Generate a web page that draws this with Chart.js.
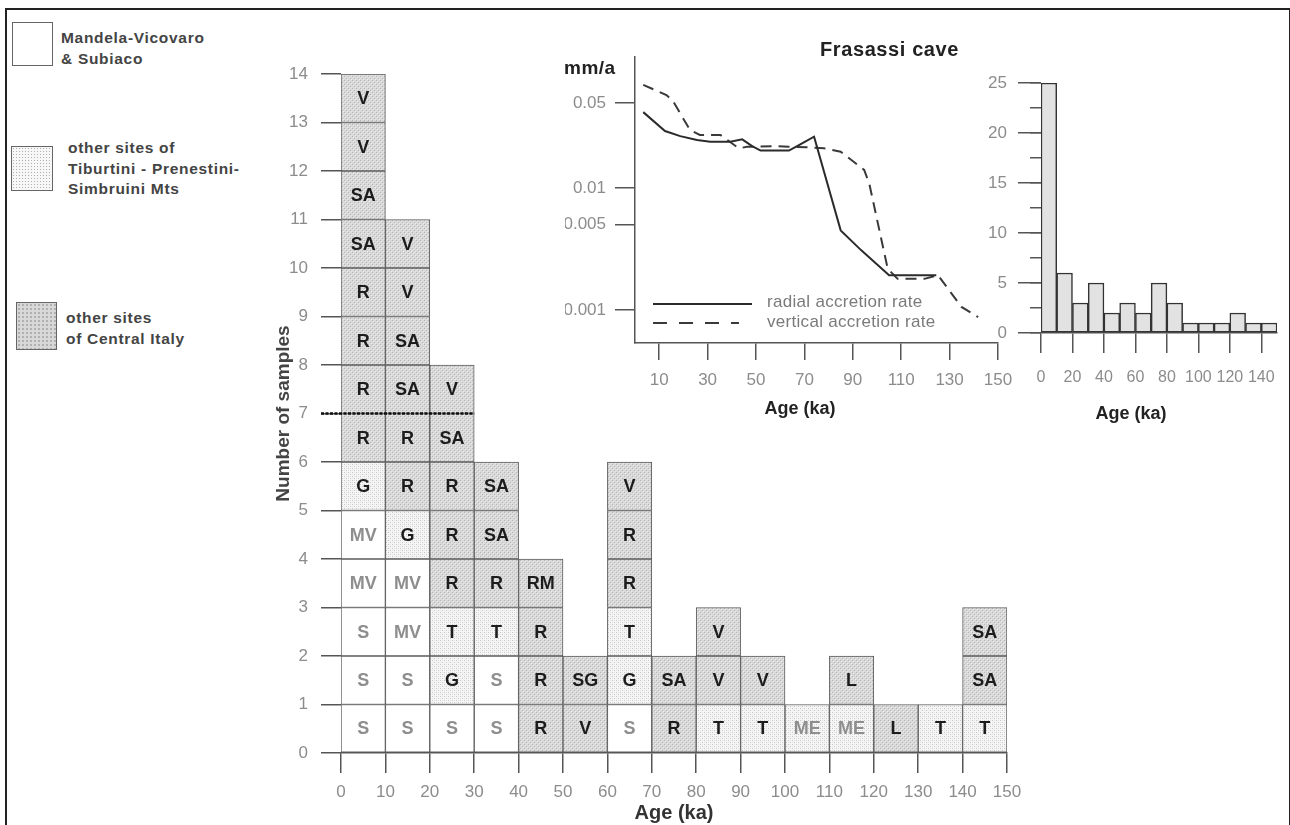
<!DOCTYPE html>
<html>
<head>
<meta charset="utf-8">
<title>U-series ages of speleothems — number of samples by age</title>
<script src="https://cdn.jsdelivr.net/npm/chart.js@4.4.1/dist/chart.umd.min.js"></script>
<style>
  html, body { margin: 0; padding: 0; background: #fff; }
  body { width: 1290px; height: 825px; position: relative; overflow: hidden;
         font-family: 'Liberation Sans', Arial, sans-serif; }
  canvas { position: absolute; left: 0; top: 0; }
  .frame { position: absolute; left: 5px; top: 8px; width: 1282px; height: 840px;
           border: 2px solid #222; border-bottom: none; }
  .key { position: absolute; box-sizing: border-box; border: 1.5px solid #666; }
  .key.white { background: #fff; }
  .key.light { background-color: #f7f7f7;
               background-image: radial-gradient(#b0b0b0 0.7px, transparent 1px);
               background-size: 3px 3px; }
  .key.dark { background-color: #d8d8d8;
              background-image: radial-gradient(#b0b0b0 0.9px, transparent 1.2px);
              background-size: 4px 4px; }
  .txt { position: absolute; white-space: nowrap; }
  .keytxt { font-weight: bold; font-size: 15.5px; line-height: 20.5px; color: #444; letter-spacing: 0.7px; }
  .bold { font-weight: bold; color: #222; }
  .rate { font-size: 17px; color: #7a7a7a; line-height: 20px; letter-spacing: 0.3px; }
  .swatch { position: absolute; height: 2px; }
</style>
</head>
<body>
<div class="frame"></div>

<!-- key for the stacked cells -->
<div class="key white" style="left:12px;top:22px;width:41px;height:44px"></div>
<div class="txt keytxt" style="left:61px;top:28px">Mandela-Vicovaro<br>&amp; Subiaco</div>
<div class="key light" style="left:11px;top:146px;width:42px;height:45px"></div>
<div class="txt keytxt" style="left:68px;top:138px">other sites of<br>Tiburtini - Prenestini-<br>Simbruini Mts</div>
<div class="key dark" style="left:16px;top:302px;width:41px;height:48px"></div>
<div class="txt keytxt" style="left:66px;top:308px">other sites<br>of Central Italy</div>

<canvas id="mainChart" width="1290" height="825"></canvas>
<canvas id="rateChart" width="1290" height="825"></canvas>
<canvas id="histChart" width="1290" height="825"></canvas>

<!-- Frasassi inset texts -->
<div class="txt bold" style="left:820px;top:38px;font-size:20px;letter-spacing:0.6px">Frasassi cave</div>
<div class="txt bold" style="left:564px;top:57px;font-size:19px;letter-spacing:0.5px">mm/a</div>
<div class="swatch" style="left:653px;top:303px;width:99px;background:#2b2b2b"></div>
<div class="swatch" style="left:653px;top:322px;width:86px;background:repeating-linear-gradient(90deg,#3a3a3a 0 14px,transparent 14px 26px)"></div>
<div class="txt rate" style="left:767px;top:292px">radial accretion rate</div>
<div class="txt rate" style="left:767px;top:312px">vertical accretion rate</div>
<div class="txt bold" style="left:740px;width:120px;text-align:center;top:398px;font-size:18px;line-height:20px">Age (ka)</div>
<div class="txt bold" style="left:1071px;width:120px;text-align:center;top:403px;font-size:18px;line-height:20px">Age (ka)</div>

<script>
const FONT = "'Liberation Sans', Arial, sans-serif";
const AXIS = '#555';
const TICK = '#8c8c8c';

// main plot: 10 ka bins, one cell per dated sample (bottom to top)
const ageBins = [5, 15, 25, 35, 45, 55, 65, 75, 85, 95, 105, 115, 125, 135, 145];
const samplesByBin = [
  ['S', 'S', 'S', 'MV', 'MV', 'G', 'R', 'R', 'R', 'R', 'SA', 'SA', 'V', 'V'],
  ['S', 'S', 'MV', 'MV', 'G', 'R', 'R', 'SA', 'SA', 'V', 'V'],
  ['S', 'G', 'T', 'R', 'R', 'R', 'SA', 'V'],
  ['S', 'S', 'T', 'R', 'SA', 'SA'],
  ['R', 'R', 'R', 'RM'],
  ['V', 'SG'],
  ['S', 'G', 'T', 'R', 'R', 'V'],
  ['R', 'SA'],
  ['T', 'V', 'V'],
  ['T', 'V'],
  ['ME'],
  ['ME', 'L'],
  ['L'],
  ['T'],
  ['T', 'SA', 'SA']
];
const mandelaSites = ['S', 'MV'];
const tiburtiniSites = ['T', 'G', 'ME'];
const greyLabelSites = ['S', 'MV', 'ME'];
const boundaryLevel = 7;
const boundaryUntilAge = 30;

// Frasassi cave accretion rates (mm/a)
const radialAges = [3.4, 12.4, 18.7, 25.6, 31.1, 39.4, 44.3, 48.4, 51.9, 63.6, 67, 74, 85, 93.4, 105, 124.5];
const radialRate = [0.042, 0.0294, 0.0267, 0.0248, 0.024, 0.024, 0.0251, 0.0221, 0.0203, 0.0203, 0.0221, 0.0264, 0.0045, 0.0031, 0.00193, 0.00193];
const verticalAges = [3.4, 13, 15.8, 22.7, 26.8, 35.3, 42.9, 46.3, 57.4, 63.6, 71.2, 78.1, 85, 94.7, 96.8, 104.4, 108.5, 119.6, 125.2, 134.9, 141.8];
const verticalRate = [0.0703, 0.058, 0.0513, 0.030, 0.0273, 0.0273, 0.0212, 0.0218, 0.0221, 0.0218, 0.0216, 0.0212, 0.0199, 0.0141, 0.0109, 0.00219, 0.0018, 0.0018, 0.00193, 0.00106, 0.000875];
const rateTicks = [0.001, 0.005, 0.01, 0.05];
const rateAgeTicks = [10, 30, 50, 70, 90, 110, 130, 150];

// Frasassi histogram
const histBins = [5, 15, 25, 35, 45, 55, 65, 75, 85, 95, 105, 115, 125, 135, 145];
const histCounts = [25, 6, 3, 5, 2, 3, 2, 5, 3, 1, 1, 1, 2, 1, 1];
const histAgeTicks = [0, 20, 40, 60, 80, 100, 120, 140];

Chart.defaults.font.family = FONT;
Chart.defaults.animation = false;

function makePattern(base, dots) {
  const c = document.createElement('canvas');
  c.width = 4; c.height = 4;
  const g = c.getContext('2d');
  g.fillStyle = base;
  g.fillRect(0, 0, 4, 4);
  dots.forEach(function (d) { g.fillStyle = d[2]; g.fillRect(d[0], d[1], 1, 1); });
  return g.createPattern(c, 'repeat');
}
const lightFill = makePattern('#f6f6f6', [[0, 0, '#c6c6c6'], [2, 2, '#c6c6c6'], [2, 0, '#e4e4e4'], [0, 2, '#e4e4e4']]);
const darkFill = makePattern('#d9d9d9', [[0, 0, '#b6b6b6'], [2, 2, '#b6b6b6'], [1, 1, '#ececec'], [3, 3, '#ececec']]);

function fillFor(code) {
  if (!code) return '#fff';
  if (mandelaSites.includes(code)) return '#ffffff';
  if (tiburtiniSites.includes(code)) return lightFill;
  return darkFill;
}

// one dataset per stacking level
const maxCount = Math.max.apply(null, samplesByBin.map(function (b) { return b.length; }));
const levelDatasets = [];
for (let k = 0; k < maxCount; k++) {
  const pts = [];
  samplesByBin.forEach(function (codes, i) {
    if (codes.length > k) pts.push({ x: ageBins[i], y: 1, code: codes[k] });
  });
  levelDatasets.push({
    data: pts,
    backgroundColor: function (ctx) { return fillFor(ctx.raw && ctx.raw.code); },
    borderColor: '#5c5c5c',
    borderWidth: 1,
    borderSkipped: false,
    barPercentage: 1,
    categoryPercentage: 1
  });
}

const cellLabels = {
  id: 'cellLabels',
  afterDatasetsDraw(chart) {
    const ctx = chart.ctx;
    ctx.save();
    ctx.font = 'bold 18px ' + FONT;
    ctx.textAlign = 'center';
    ctx.textBaseline = 'middle';
    chart.data.datasets.forEach(function (ds, di) {
      chart.getDatasetMeta(di).data.forEach(function (bar, j) {
        const code = ds.data[j].code;
        ctx.fillStyle = greyLabelSites.includes(code) ? '#8e8e8e' : '#1c1c1c';
        ctx.fillText(code, bar.x, (bar.y + bar.base) / 2 + 1);
      });
    });
    // heavy dotted boundary at 7 samples
    const x = chart.scales.x, y = chart.scales.y;
    const yy = y.getPixelForValue(boundaryLevel);
    ctx.strokeStyle = '#111';
    ctx.lineWidth = 2.5;
    ctx.setLineDash([3, 1.5]);
    ctx.beginPath();
    ctx.moveTo(chart.chartArea.left - 20, yy);
    ctx.lineTo(x.getPixelForValue(boundaryUntilAge), yy);
    ctx.stroke();
    ctx.restore();
  }
};

function tickGrid(len) {
  return { drawOnChartArea: false, drawTicks: true, tickLength: len, color: AXIS, lineWidth: 1.5, offset: false };
}

new Chart(document.getElementById('mainChart'), {
  type: 'bar',
  data: { datasets: levelDatasets },
  options: {
    responsive: false,
    devicePixelRatio: 1,
    layout: { padding: { left: 271, right: 283, top: 74, bottom: 0 } },
    plugins: { legend: { display: false }, tooltip: { enabled: false } },
    scales: {
      x: {
        type: 'linear', stacked: true, min: 0, max: 150, offset: false,
        afterFit: function (s) { s.height = 72; },
        ticks: { stepSize: 10, color: TICK, font: { size: 17 }, padding: 9, autoSkip: false, maxRotation: 0 },
        grid: tickGrid(20),
        border: { display: true, color: AXIS, width: 1.5 },
        title: { display: true, text: 'Age (ka)', color: '#333', font: { size: 20, weight: 'bold' }, padding: { top: 0, bottom: 0 } }
      },
      y: {
        stacked: true, min: 0, max: 14,
        afterFit: function (s) { s.width = 70; },
        ticks: { stepSize: 1, color: TICK, font: { size: 17 }, padding: 13 },
        grid: tickGrid(20),
        border: { display: false },
        title: { display: true, text: 'Number of samples', color: '#444', font: { size: 19, weight: 'bold' }, padding: { top: 1, bottom: 0 } }
      }
    }
  },
  plugins: [cellLabels]
});

new Chart(document.getElementById('rateChart'), {
  type: 'line',
  data: {
    datasets: [
      {
        label: 'radial accretion rate',
        data: radialAges.map(function (a, i) { return { x: a, y: radialRate[i] }; }),
        borderColor: '#2b2b2b', borderWidth: 2, pointRadius: 0, tension: 0, fill: false
      },
      {
        label: 'vertical accretion rate',
        data: verticalAges.map(function (a, i) { return { x: a, y: verticalRate[i] }; }),
        borderColor: '#3a3a3a', borderWidth: 2, borderDash: [11, 7], pointRadius: 0, tension: 0, fill: false
      }
    ]
  },
  options: {
    responsive: false,
    devicePixelRatio: 1,
    layout: { padding: { left: 565, right: 292, top: 57, bottom: 408 } },
    plugins: { legend: { display: false }, tooltip: { enabled: false } },
    scales: {
      x: {
        type: 'linear', min: 0, max: 150,
        afterFit: function (s) { s.height = 74; },
        afterBuildTicks: function (s) { s.ticks = rateAgeTicks.map(function (v) { return { value: v }; }); },
        ticks: { color: TICK, font: { size: 17 }, padding: 10, autoSkip: false, maxRotation: 0 },
        grid: tickGrid(17),
        border: { display: true, color: AXIS, width: 1.5 }
      },
      y: {
        type: 'logarithmic', min: 0.000536, max: 0.119,
        afterFit: function (s) { s.width = 70; },
        afterBuildTicks: function (s) { s.ticks = rateTicks.map(function (v) { return { value: v }; }); },
        ticks: { color: TICK, font: { size: 17 }, padding: 9, callback: function (v) { return String(v); } },
        grid: tickGrid(20),
        border: { display: true, color: AXIS, width: 1.5 }
      }
    }
  }
});

new Chart(document.getElementById('histChart'), {
  type: 'bar',
  data: {
    datasets: [{
      data: histBins.map(function (a, i) { return { x: a, y: histCounts[i] }; }),
      backgroundColor: '#e2e2e2',
      borderColor: '#333',
      borderWidth: 1.5,
      borderSkipped: false,
      barPercentage: 1,
      categoryPercentage: 1
    }]
  },
  options: {
    responsive: false,
    devicePixelRatio: 1,
    layout: { padding: { left: 981, right: 5, top: 83, bottom: 432 } },
    plugins: { legend: { display: false }, tooltip: { enabled: false } },
    scales: {
      x: {
        type: 'linear', min: 0, max: 150, offset: false,
        afterFit: function (s) { s.height = 60; },
        afterBuildTicks: function (s) { s.ticks = histAgeTicks.map(function (v) { return { value: v }; }); },
        ticks: { color: TICK, font: { size: 16 }, padding: 15, autoSkip: false, maxRotation: 0 },
        grid: tickGrid(20),
        border: { display: true, color: AXIS, width: 1.5 }
      },
      y: {
        position: 'left', weight: 1, min: 0, max: 25,
        afterFit: function (s) { s.width = 60; },
        ticks: { stepSize: 5, color: TICK, font: { size: 17 }, padding: 11 },
        grid: tickGrid(23),
        border: { display: false }
      },
      yMinor: {
        type: 'linear', axis: 'y', position: 'left', weight: 0, min: 0, max: 25,
        afterFit: function (s) { s.width = 0; },
        ticks: { display: false, stepSize: 2.5 },
        grid: tickGrid(11),
        border: { display: false }
      }
    }
  }
});
</script>
</body>
</html>
